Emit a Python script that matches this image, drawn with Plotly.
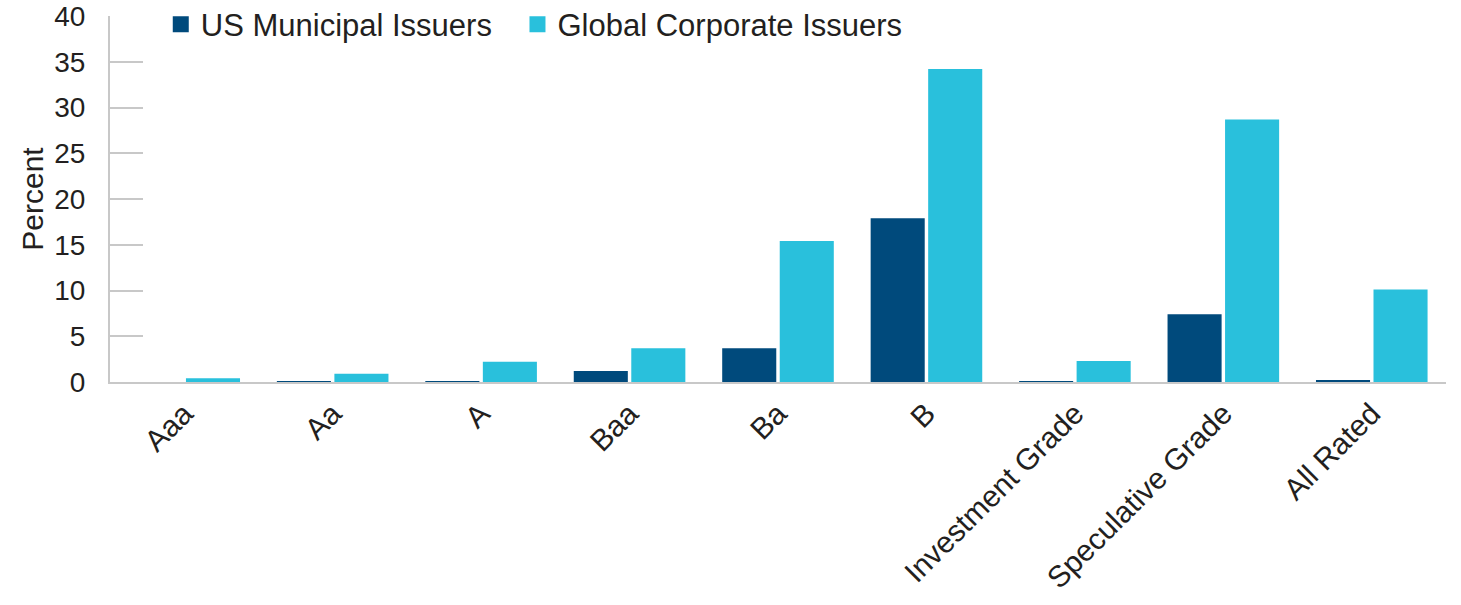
import plotly.graph_objects as go

categories = ["Aaa", "Aa", "A", "Baa", "Ba", "B", "Investment Grade", "Speculative Grade", "All Rated"]
us_municipal = [0.0, 0.03, 0.1, 1.2, 3.7, 17.9, 0.1, 7.4, 0.2]
global_corporate = [0.4, 0.9, 2.2, 3.7, 15.4, 34.2, 2.3, 28.7, 10.1]
y_ticks = [0, 5, 10, 15, 20, 25, 30, 35, 40]
series_names = ["US Municipal Issuers", "Global Corporate Issuers"]
series_colors = ["#004a7c", "#29c0dc"]
legend_ids = ["legend", "legend2"]

FONT = "Liberation Sans, Arial, Helvetica, sans-serif"
TEXT = "#231f20"
TICK_SIZE = 28
LEGEND_SIZE = 31
LABEL_SIZE = 30

fig = go.Figure()
for name, vals, col in zip(series_names, [us_municipal, global_corporate], series_colors):
    fig.add_trace(go.Bar(name=name, x=categories, y=vals, showlegend=False,
                         marker=dict(color=col, line=dict(width=0))))
# legend proxies with larger square swatches
for name, col, lg in zip(series_names, series_colors, legend_ids):
    fig.add_trace(go.Scatter(name=name, x=[None], y=[None], mode="markers", legend=lg,
                             marker=dict(symbol="square", size=17, color=col)))

legend_common = dict(orientation="h", xanchor="left", y=1.05, yanchor="top",
                     font=dict(family=FONT, size=LEGEND_SIZE, color=TEXT),
                     bgcolor="rgba(0,0,0,0)", itemwidth=30)

fig.update_layout(
    width=1461, height=605,
    margin=dict(l=110, r=15, t=16, b=223, autoexpand=False),
    paper_bgcolor="white", plot_bgcolor="white",
    barmode="group", bargap=0.225, bargroupgap=0.06,
    font=dict(family=FONT, size=TICK_SIZE, color=TEXT),
    legend=dict(x=0.038, **legend_common),
    legend2=dict(x=0.305, **legend_common),
    xaxis=dict(showline=True, linecolor="#c8c8c8", linewidth=2, ticks="",
               tickangle=-45, tickfont=dict(family=FONT, size=LABEL_SIZE, color=TEXT),
               showgrid=False, zeroline=False),
    yaxis=dict(range=[0, 40], tickvals=y_ticks, ticks="inside", ticklen=33,
               tickcolor="#c8c8c8", tickwidth=2, showline=True, linecolor="#c8c8c8",
               linewidth=2, showgrid=False, zeroline=False, ticklabelstandoff=17,
               ticklabeloverflow="allow",
               tickfont=dict(family=FONT, size=TICK_SIZE, color=TEXT),
               title=dict(text="Percent", font=dict(family=FONT, size=LABEL_SIZE, color=TEXT), standoff=2)),
)

fig.write_html("out.html", config={"displayModeBar": False},
               post_script="document.body.style.margin='0';")
